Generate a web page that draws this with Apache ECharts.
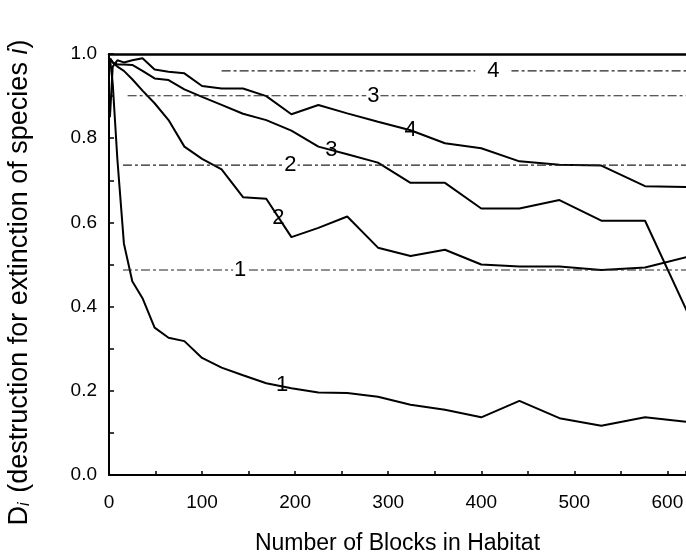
<!DOCTYPE html>
<html>
<head>
<meta charset="utf-8">
<script src="https://cdn.jsdelivr.net/npm/echarts@6/dist/echarts.min.js"></script>
<style>
  html, body { margin: 0; padding: 0; background: #fff; }
  #chart { width: 686px; height: 556px; }
</style>
</head>
<body>
<div id="chart"></div>
<script>
// number of blocks in habitat (x values sampled at squares)
var blocks = [1, 4, 9, 16, 25, 36, 49, 64, 81, 100, 121, 144, 169, 196, 225, 256, 289, 324, 361, 400, 441, 484, 529, 576, 625];

// D_i for each species
var species1 = [0.99, 0.93, 0.75, 0.55, 0.46, 0.42, 0.35, 0.326, 0.318, 0.278, 0.255, 0.237, 0.218, 0.206, 0.196, 0.195, 0.186, 0.167, 0.155, 0.137, 0.176, 0.135, 0.117, 0.137, 0.125];
var species2 = [0.99, 0.98, 0.97, 0.96, 0.94, 0.913, 0.883, 0.843, 0.78, 0.751, 0.726, 0.66, 0.656, 0.565, 0.587, 0.614, 0.54, 0.52, 0.535, 0.50, 0.495, 0.495, 0.487, 0.493, 0.52];
var species3 = [0.99, 0.98, 0.975, 0.975, 0.974, 0.96, 0.942, 0.938, 0.916, 0.898, 0.879, 0.858, 0.843, 0.818, 0.78, 0.762, 0.742, 0.694, 0.694, 0.633, 0.633, 0.653, 0.604, 0.604, 0.37];
var species4 = [0.85, 0.97, 0.985, 0.98, 0.985, 0.99, 0.963, 0.958, 0.954, 0.924, 0.918, 0.918, 0.90, 0.857, 0.879, 0.859, 0.839, 0.819, 0.788, 0.776, 0.745, 0.737, 0.735, 0.686, 0.684];

// analytic thresholds (dashed lines) and where each dashed line starts
var thresholds = [0.487, 0.736, 0.901, 0.960];
var thresholdStart = [15, 15, 20, 121];
var xEnd = 620;

// where the curve number labels sit (data coords)
var curveLabelAt = [[186, 0.214], [182, 0.61], [239, 0.772], [324, 0.82]];
var dashLabelAt = [141, 195, 284, 413];

var FONT = 'Liberation Sans, Arial, Helvetica, sans-serif';

var chart = echarts.init(document.getElementById('chart'));

var curves = [species1, species2, species3, species4];
var series = [];

curves.forEach(function(vals, k) {
    series.push({
        name: 'D' + (k + 1),
        type: 'line',
        symbol: 'none',
        silent: true,
        lineStyle: { color: '#000', width: 2 },
        data: blocks.map(function(b, i) { return [b, vals[i]]; }),
        markPoint: {
            symbol: 'circle',
            symbolSize: 0,
            label: {
                show: true, position: 'inside', formatter: String(k + 1),
                color: '#000', fontSize: 22, fontFamily: FONT
            },
            data: [{ coord: curveLabelAt[k] }]
        }
    });
});

thresholds.forEach(function(t, k) {
    series.push({
        name: 'T' + (k + 1),
        type: 'line',
        symbol: 'none',
        silent: true,
        lineStyle: { color: '#222', width: 1.1, type: [9, 3, 3, 3] },
        data: [[thresholdStart[k], t], [xEnd, t]],
        markPoint: {
            symbol: 'circle',
            symbolSize: 0,
            label: {
                show: true, position: 'inside', formatter: String(k + 1),
                color: '#000', fontSize: 22, fontFamily: FONT,
                backgroundColor: '#fff', padding: k === 3 ? [0, 12] : [0, 1]
            },
            data: [{ coord: [dashLabelAt[k], t] }]
        }
    });
});

var option = {
    animation: false,
    backgroundColor: '#fff',
    grid: { left: 109, right: 0, top: 54, bottom: 81, outerBoundsMode: 'none' },
    xAxis: [{
        type: 'value',
        min: 0, max: xEnd, interval: 50,
        name: 'Number of Blocks in Habitat',
        nameLocation: 'middle',
        nameGap: 57,
        nameTextStyle: { fontSize: 23, color: '#000', fontFamily: FONT },
        axisLine: { show: true, lineStyle: { color: '#000', width: 2 } },
        axisTick: { show: true, inside: true, length: 4, lineStyle: { color: '#000', width: 1.5 } },
        axisLabel: {
            margin: 18, fontSize: 19, color: '#000', fontFamily: FONT,
            formatter: function(v) { return v % 100 === 0 ? String(v) : ''; }
        },
        splitLine: { show: false }
    }, {
        type: 'value',
        position: 'top',
        min: 0, max: xEnd,
        axisLine: { show: true, lineStyle: { color: '#000', width: 2.5 } },
        axisTick: { show: false },
        axisLabel: { show: false },
        splitLine: { show: false }
    }],
    yAxis: {
        type: 'value',
        min: 0, max: 1, interval: 0.1,
        name: '{d|D}{s|i} (destruction for extinction of species {it|i})',
        nameLocation: 'middle',
        nameRotate: 90,
        nameGap: 76,
        nameTextStyle: {
            fontSize: 27, color: '#000', fontFamily: FONT,
            padding: [0, 36, 0, 0],
            rich: {
                d: { fontSize: 27, color: '#000', fontFamily: FONT },
                s: { fontSize: 16, color: '#000', fontFamily: FONT, fontStyle: 'italic', verticalAlign: 'bottom', padding: [8, 2, 0, 0] },
                it: { fontSize: 27, color: '#000', fontFamily: FONT, fontStyle: 'italic' }
            }
        },
        axisLine: { show: true, lineStyle: { color: '#000', width: 2 } },
        axisTick: { show: true, inside: true, length: 5, lineStyle: { color: '#000', width: 1.5 } },
        axisLabel: {
            margin: 12, fontSize: 19, color: '#000', fontFamily: FONT,
            formatter: function(v) {
                return Math.round(v * 10) % 2 === 0 ? v.toFixed(1) : '';
            }
        },
        splitLine: { show: false }
    },
    series: series
};

chart.setOption(option);
</script>
</body>
</html>
